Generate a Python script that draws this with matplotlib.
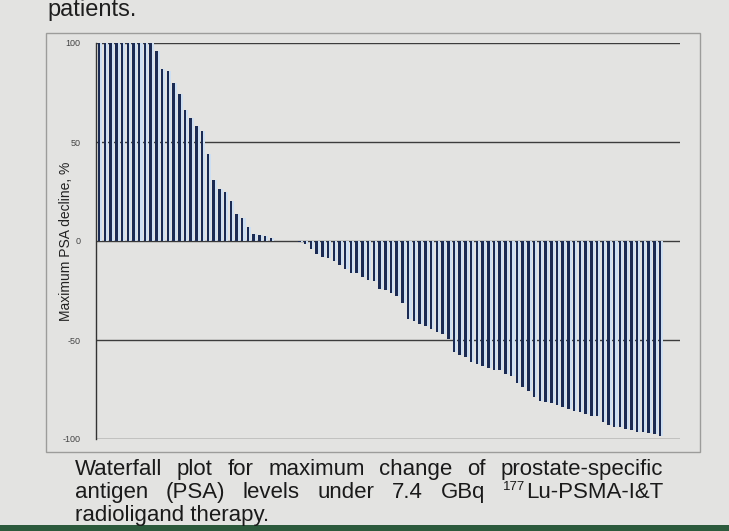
import matplotlib
matplotlib.use("Agg")
import matplotlib.pyplot as plt
from matplotlib.patches import Rectangle
import numpy as np

# ---------------- data ----------------
psa_decline = [
    100, 100, 100, 100, 100, 100, 100, 100, 100, 100,
    96, 87, 86, 80, 74, 66, 62, 58, 55.5, 44,
    31, 26.5, 25, 20, 13.6, 11.4, 7, 3.5, 3, 2.6, 1.6,
    0, 0, 0, 0,
    -0.5, -1.5, -4, -6.5, -8, -8.5, -10, -12, -14, -16,
    -16, -18, -19.5, -20, -24, -24.5, -26.5, -28, -31.5,
    -39.5, -40.6, -41.8, -43, -44.5, -46, -47, -49.6,
    -56, -57.4, -58.6, -61, -62.3, -63, -64, -65, -65.4, -67.3,
    -68.2, -71.6, -73.8, -75.7, -79, -81,
    -81.5, -82, -83, -84, -85, -86, -86.6, -87.6, -88.5, -88.5,
    -91.3, -93, -94, -94, -94.8, -95.7, -96.3, -96.7, -97, -97.6, -98.5,
]
y_ticks = [100, 50, 0, -50, -100]
y_tick_labels = ["100", "50", "0", "-50", "-100"]
y_label = "Maximum PSA decline, %"
top_text = "patients."
caption_lines = [
    ["Waterfall", "plot", "for", "maximum", "change", "of", "prostate-specific"],
    ["antigen", "(PSA)", "levels", "under", "7.4", "GBq", ("177", "Lu-PSMA-I&T")],
    ["radioligand therapy."],
]

# ---------------- style ----------------
plt.rcParams["font.family"] = ["Liberation Sans", "DejaVu Sans"]
plt.rcParams["axes.unicode_minus"] = False

W, H = 729, 531
fig = plt.figure(figsize=(W / 100, H / 100), dpi=100, facecolor="#e3e3e1")


def fx(px):
    return px / W


def fy(py):
    return 1 - py / H


# chart frame
fig.add_artist(Rectangle((fx(46), fy(452)), fx(700) - fx(46), fy(33) - fy(452),
                         transform=fig.transFigure, fill=False,
                         edgecolor="#9c9c9a", lw=1.0))
# green strip at bottom of the photo
fig.add_artist(Rectangle((0, 0), 1, 6 / H, transform=fig.transFigure,
                         facecolor="#2c5a3c", edgecolor="none"))

ax = fig.add_axes([fx(96), fy(439), fx(680) - fx(96), fy(43) - fy(439)])
ax.set_facecolor("none")

n = len(psa_decline)
x = np.arange(n)
ax.bar(x - 0.22, psa_decline, width=0.8, align="edge", color="#cddff3",
       edgecolor="none", zorder=2)
ax.bar(x - 0.22, psa_decline, width=0.44, align="edge", color="#1b2a52",
       edgecolor="none", zorder=3)

for yv in y_ticks:
    ax.axhline(yv, color="#3c3c3c", lw=1.0, zorder=1)

ax.set_xlim(-0.55, 98 + 20 / 5.72)
ax.set_ylim(-100, 100)
ax.set_xticks([])
ax.set_yticks(y_ticks)
ax.set_yticklabels(y_tick_labels)
ax.tick_params(axis="y", length=0, pad=11, labelsize=6.5, labelcolor="#444444")
for s in ["top", "right", "bottom"]:
    ax.spines[s].set_visible(False)
ax.spines["left"].set_color("#333333")
ax.spines["left"].set_linewidth(1.0)
ax.set_ylabel(y_label, fontsize=10, color="#222222")
ax.yaxis.set_label_coords((73 - 96) / (680 - 96), 0.5)

# top text (at the photo's upper edge)
fig.text(fx(47), fy(16), top_text, fontsize=17, color="#1e1e1e", va="baseline")

# justified caption
renderer = fig.canvas.get_renderer()
baselines = [475, 498, 521]
x0, x1 = 75, 663
FS, SUP_FS = 16, 9.5
for words, b in zip(caption_lines, baselines):
    items = []
    for w in words:
        if isinstance(w, tuple):
            sup = fig.text(0, fy(b - 8), w[0], fontsize=SUP_FS, color="#1a1a1a",
                           va="baseline")
            main = fig.text(0, fy(b), w[1], fontsize=FS, color="#1a1a1a",
                            va="baseline")
            ws = sup.get_window_extent(renderer).width + 1
            wm = main.get_window_extent(renderer).width
            items.append(([(sup, 0), (main, ws)], ws + wm))
        else:
            t = fig.text(0, fy(b), w, fontsize=FS, color="#1a1a1a", va="baseline")
            items.append(([(t, 0)], t.get_window_extent(renderer).width))
    total = sum(it[1] for it in items)
    gap = (x1 - x0 - total) / (len(items) - 1) if len(items) > 1 else 0
    xp = x0
    for parts, wd in items:
        for t, dx in parts:
            t.set_x(fx(xp + dx))
        xp += wd + gap

fig.savefig("out.png", dpi=100, facecolor=fig.get_facecolor())
